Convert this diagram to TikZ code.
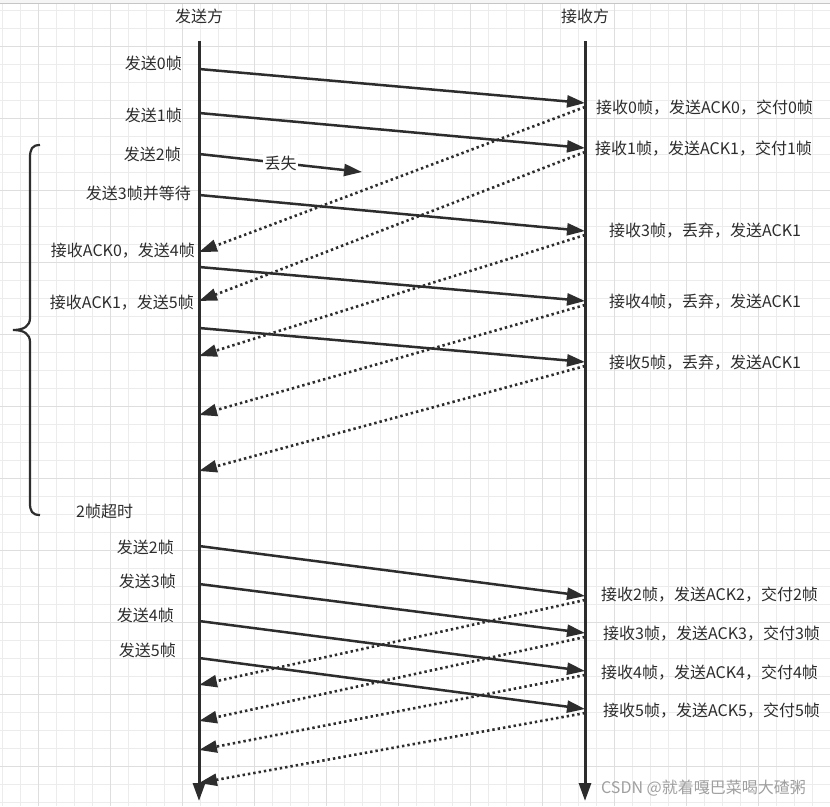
\documentclass[tikz,border=0pt]{standalone}
\usepackage{fontspec}
\newfontfamily\cjk{Noto Sans CJK SC}
\usepackage{tikz}
\usetikzlibrary{arrows.meta, positioning, calc}
\definecolor{inkgray}{RGB}{45, 45, 45}
\definecolor{gridlight}{RGB}{236, 236, 236}
\definecolor{griddark}{RGB}{222, 222, 222}

\tikzset{
  lifeline/.style={draw=inkgray, line width=3pt, -{Triangle[length=18pt, width=12pt]}},
  frame/.style={draw=inkgray, line width=2.5pt, -{Triangle[length=18pt, width=12pt]}},
  ack/.style={draw=inkgray, line width=2.6pt, dash pattern=on 2.4pt off 3pt, -{Triangle[length=18pt, width=12pt]}},
  lbl/.style={text=inkgray, font=\cjk\fontsize{16}{19}\selectfont, inner sep=0pt}
}

\begin{document}
\begin{tikzpicture}[x=1pt, y=-1pt]
  \useasboundingbox (0,0) rectangle (830,806);
  \fill[white] (0,0) rectangle (830,806);
  \foreach \gx in {2,20,...,830} \draw[gridlight, line width=1pt] (\gx,3) -- (\gx,806);
  \foreach \gy in {10,28,...,806} \draw[gridlight, line width=1pt] (0,\gy) -- (830,\gy);
  \foreach \gx in {38,110,...,830} \draw[griddark, line width=1pt] (\gx,3) -- (\gx,806);
  \foreach \gy in {46,118,...,806} \draw[griddark, line width=1pt] (0,\gy) -- (830,\gy);
  \fill[gray!8] (0,0) rectangle (830,3);
  \draw[gray!45, line width=1pt] (0,3.5) -- (830,3.5);

  \node[lbl] (sender) at (199,16) {发送方};
  \node[lbl] (receiver) at (585,16) {接收方};
  \coordinate (stop) at (199,41);
  \coordinate (sbot) at (199,801);
  \coordinate (rtop) at (585,41);
  \coordinate (rbot) at (585,801);
  \draw[lifeline] (stop) -- (sbot);
  \draw[lifeline] (rtop) -- (rbot);

  \foreach \n/\ys/\yr in {0/69/103, 1/113/148, 3/195/231, 4/267/301, 5/328/362,
                          2b/546/596, 3b/584/633, 4b/621/671, 5b/658/709} {
    \coordinate (s\n) at (199,\ys);
    \coordinate (r\n) at (585,\yr);
    \draw[frame] (s\n) -- (r\n);
  }
  \coordinate (s2) at (199,154);
  \coordinate (x2) at (362,172);
  \draw[frame] (s2) -- node[lbl, fill=white, inner sep=1.5pt] (lost) {丢失} (x2);

  \foreach \n/\yr/\ys in {0/107/252, 1/152/301, 3/235/356, 4/305/415, 5/366/471,
                          2b/600/685, 3b/637/721, 4b/675/750, 5b/713/783} {
    \coordinate (ra\n) at (585,\yr);
    \coordinate (sa\n) at (199,\ys);
    \draw[ack] (ra\n) -- (sa\n);
  }

  \node[lbl, anchor=east] (send0) at (182,63) {发送0帧};
  \node[lbl, anchor=east] (send1) at (182,115) {发送1帧};
  \node[lbl, anchor=east] (send2) at (181,154) {发送2帧};
  \node[lbl, anchor=east] (send3) at (191,193) {发送3帧并等待};
  \node[lbl, anchor=east] (gotack0) at (195,251) {接收ACK0，发送4帧};
  \node[lbl, anchor=east] (gotack1) at (194,303) {接收ACK1，发送5帧};
  \node[lbl, anchor=west] (timeout) at (76,511) {2帧超时};
  \node[lbl, anchor=east] (resend2) at (174,547) {发送2帧};
  \node[lbl, anchor=east] (resend3) at (176,581) {发送3帧};
  \node[lbl, anchor=east] (resend4) at (174,615) {发送4帧};
  \node[lbl, anchor=east] (resend5) at (176,650) {发送5帧};

  \node[lbl, anchor=west] (recv0) at (596,108) {接收0帧，发送ACK0，交付0帧};
  \node[lbl, anchor=west] (recv1) at (595,149) {接收1帧，发送ACK1，交付1帧};
  \node[lbl, anchor=west] (drop3) at (609,231) {接收3帧，丢弃，发送ACK1};
  \node[lbl, anchor=west] (drop4) at (609,302) {接收4帧，丢弃，发送ACK1};
  \node[lbl, anchor=west] (drop5) at (609,363) {接收5帧，丢弃，发送ACK1};
  \node[lbl, anchor=west] (recv2) at (601,595) {接收2帧，发送ACK2，交付2帧};
  \node[lbl, anchor=west] (recv3) at (603,634) {接收3帧，发送ACK3，交付3帧};
  \node[lbl, anchor=west] (recv4) at (601,673) {接收4帧，发送ACK4，交付4帧};
  \node[lbl, anchor=west] (recv5) at (603,711) {接收5帧，发送ACK5，交付5帧};
  \node[lbl, anchor=west, text=gray!75] (mark) at (601,788) {CSDN @就着嘎巴菜喝大碴粥};

  \draw[inkgray, line width=2.2pt] (40,145) .. controls (32,145) and (30,149) .. (30,158)
    -- (30,318) .. controls (30,326) and (24,330) .. (13,330)
    .. controls (24,330) and (30,334) .. (30,342)
    -- (30,503) .. controls (30,511) and (32,515) .. (40,515);
\end{tikzpicture}
\end{document}
